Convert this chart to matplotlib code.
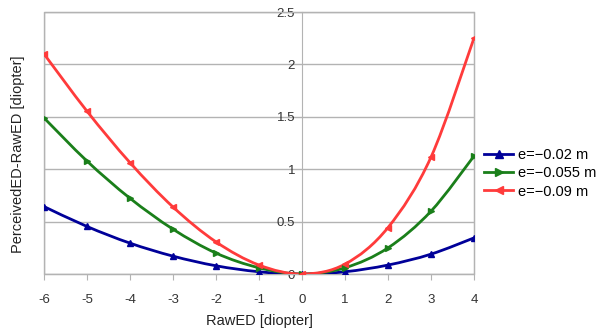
import numpy as np
import matplotlib
matplotlib.use("Agg")
import matplotlib.pyplot as plt
from matplotlib.path import Path
from matplotlib.patches import PathPatch

plt.rcParams['font.family'] = ['Liberation Sans', 'DejaVu Sans']
plt.rcParams['axes.unicode_minus'] = False

# Daten
raw_ed = [-6, -5, -4, -3, -2, -1, 0, 1, 2, 3, 4]
diff_002 = [0.644, 0.454, 0.295, 0.171, 0.079, 0.022, 0.0, 0.022, 0.086, 0.19, 0.345]
diff_0055 = [1.49, 1.078, 0.723, 0.428, 0.2, 0.06, 0.0, 0.06, 0.25, 0.6, 1.126]
diff_009 = [2.10, 1.554, 1.063, 0.64, 0.307, 0.086, 0.0, 0.095, 0.444, 1.116, 2.252]

series = [
    ("e=\u22120.02 m", diff_002, "#000099", "^"),
    ("e=\u22120.055 m", diff_0055, "#1a7f1a", ">"),
    ("e=\u22120.09 m", diff_009, "#ff3b3b", "<"),
]


def spline_path(x, y):
    # Catmull-Rom -> Bezier, damit die Linien glatt aussehen
    x = np.asarray(x, float)
    y = np.asarray(y, float)
    verts = [(x[0], y[0])]
    codes = [Path.MOVETO]
    n = len(x)
    for i in range(n - 1):
        i0 = max(i - 1, 0)
        i3 = min(i + 2, n - 1)
        c1 = (x[i] + (x[i + 1] - x[i0]) / 6, y[i] + (y[i + 1] - y[i0]) / 6)
        c2 = (x[i + 1] - (x[i3] - x[i]) / 6, y[i + 1] - (y[i3] - y[i]) / 6)
        verts += [c1, c2, (x[i + 1], y[i + 1])]
        codes += [Path.CURVE4] * 3
    return Path(verts, codes)


fig = plt.figure(figsize=(6.05, 3.29), dpi=100)
ax = fig.add_axes([0.0727, 0.167, 0.7108, 0.7965])

for label, vals, col, mk in series:
    ax.add_patch(PathPatch(spline_path(raw_ed, vals), facecolor='none',
                           edgecolor=col, linewidth=2, zorder=3))
    ax.plot(raw_ed, vals, linestyle='none', marker=mk, markersize=5,
            color=col, zorder=4)
    ax.plot([], [], color=col, linewidth=2, marker=mk, markersize=6, label=label)

ax.set_xlim(-6, 4)
ax.set_ylim(0, 2.5)
ax.set_xticks(range(-6, 5))
ax.set_yticks([0, 0.5, 1, 1.5, 2, 2.5])
ax.set_yticklabels(["0", "0.5", "1", "1.5", "2", "2.5"])

grid_col = '#b3b3b3'
ax.grid(axis='y', color=grid_col, linewidth=1)
ax.set_axisbelow(True)
for s in ['top', 'right', 'bottom']:
    ax.spines[s].set_color(grid_col)
ax.spines['left'].set_position(('data', 0))
ax.spines['left'].set_color(grid_col)
ax.patch.set_edgecolor(grid_col)
ax.patch.set_linewidth(1)
ax.axvline(-6, color=grid_col, linewidth=1, zorder=0)

ax.tick_params(axis='both', colors=grid_col, labelcolor='#333333',
               labelsize=9.5, length=4)
ax.tick_params(axis='x', pad=10)
ax.tick_params(axis='y', length=0, pad=5)

ax.set_xlabel("RawED [diopter]", fontsize=10.5, color='#222222', labelpad=6)
fig.text(0.03, 0.53, "PerceivedED-RawED [diopter]", rotation=90,
         ha='center', va='center', fontsize=10.5, color='#222222')

ax.legend(loc='center left', bbox_to_anchor=(1.0, 0.385), frameon=False,
          fontsize=10.5, handlelength=2.0, handletextpad=0.3, labelspacing=0.3,
          borderaxespad=0.3)

fig.savefig("out.png", dpi=100)
